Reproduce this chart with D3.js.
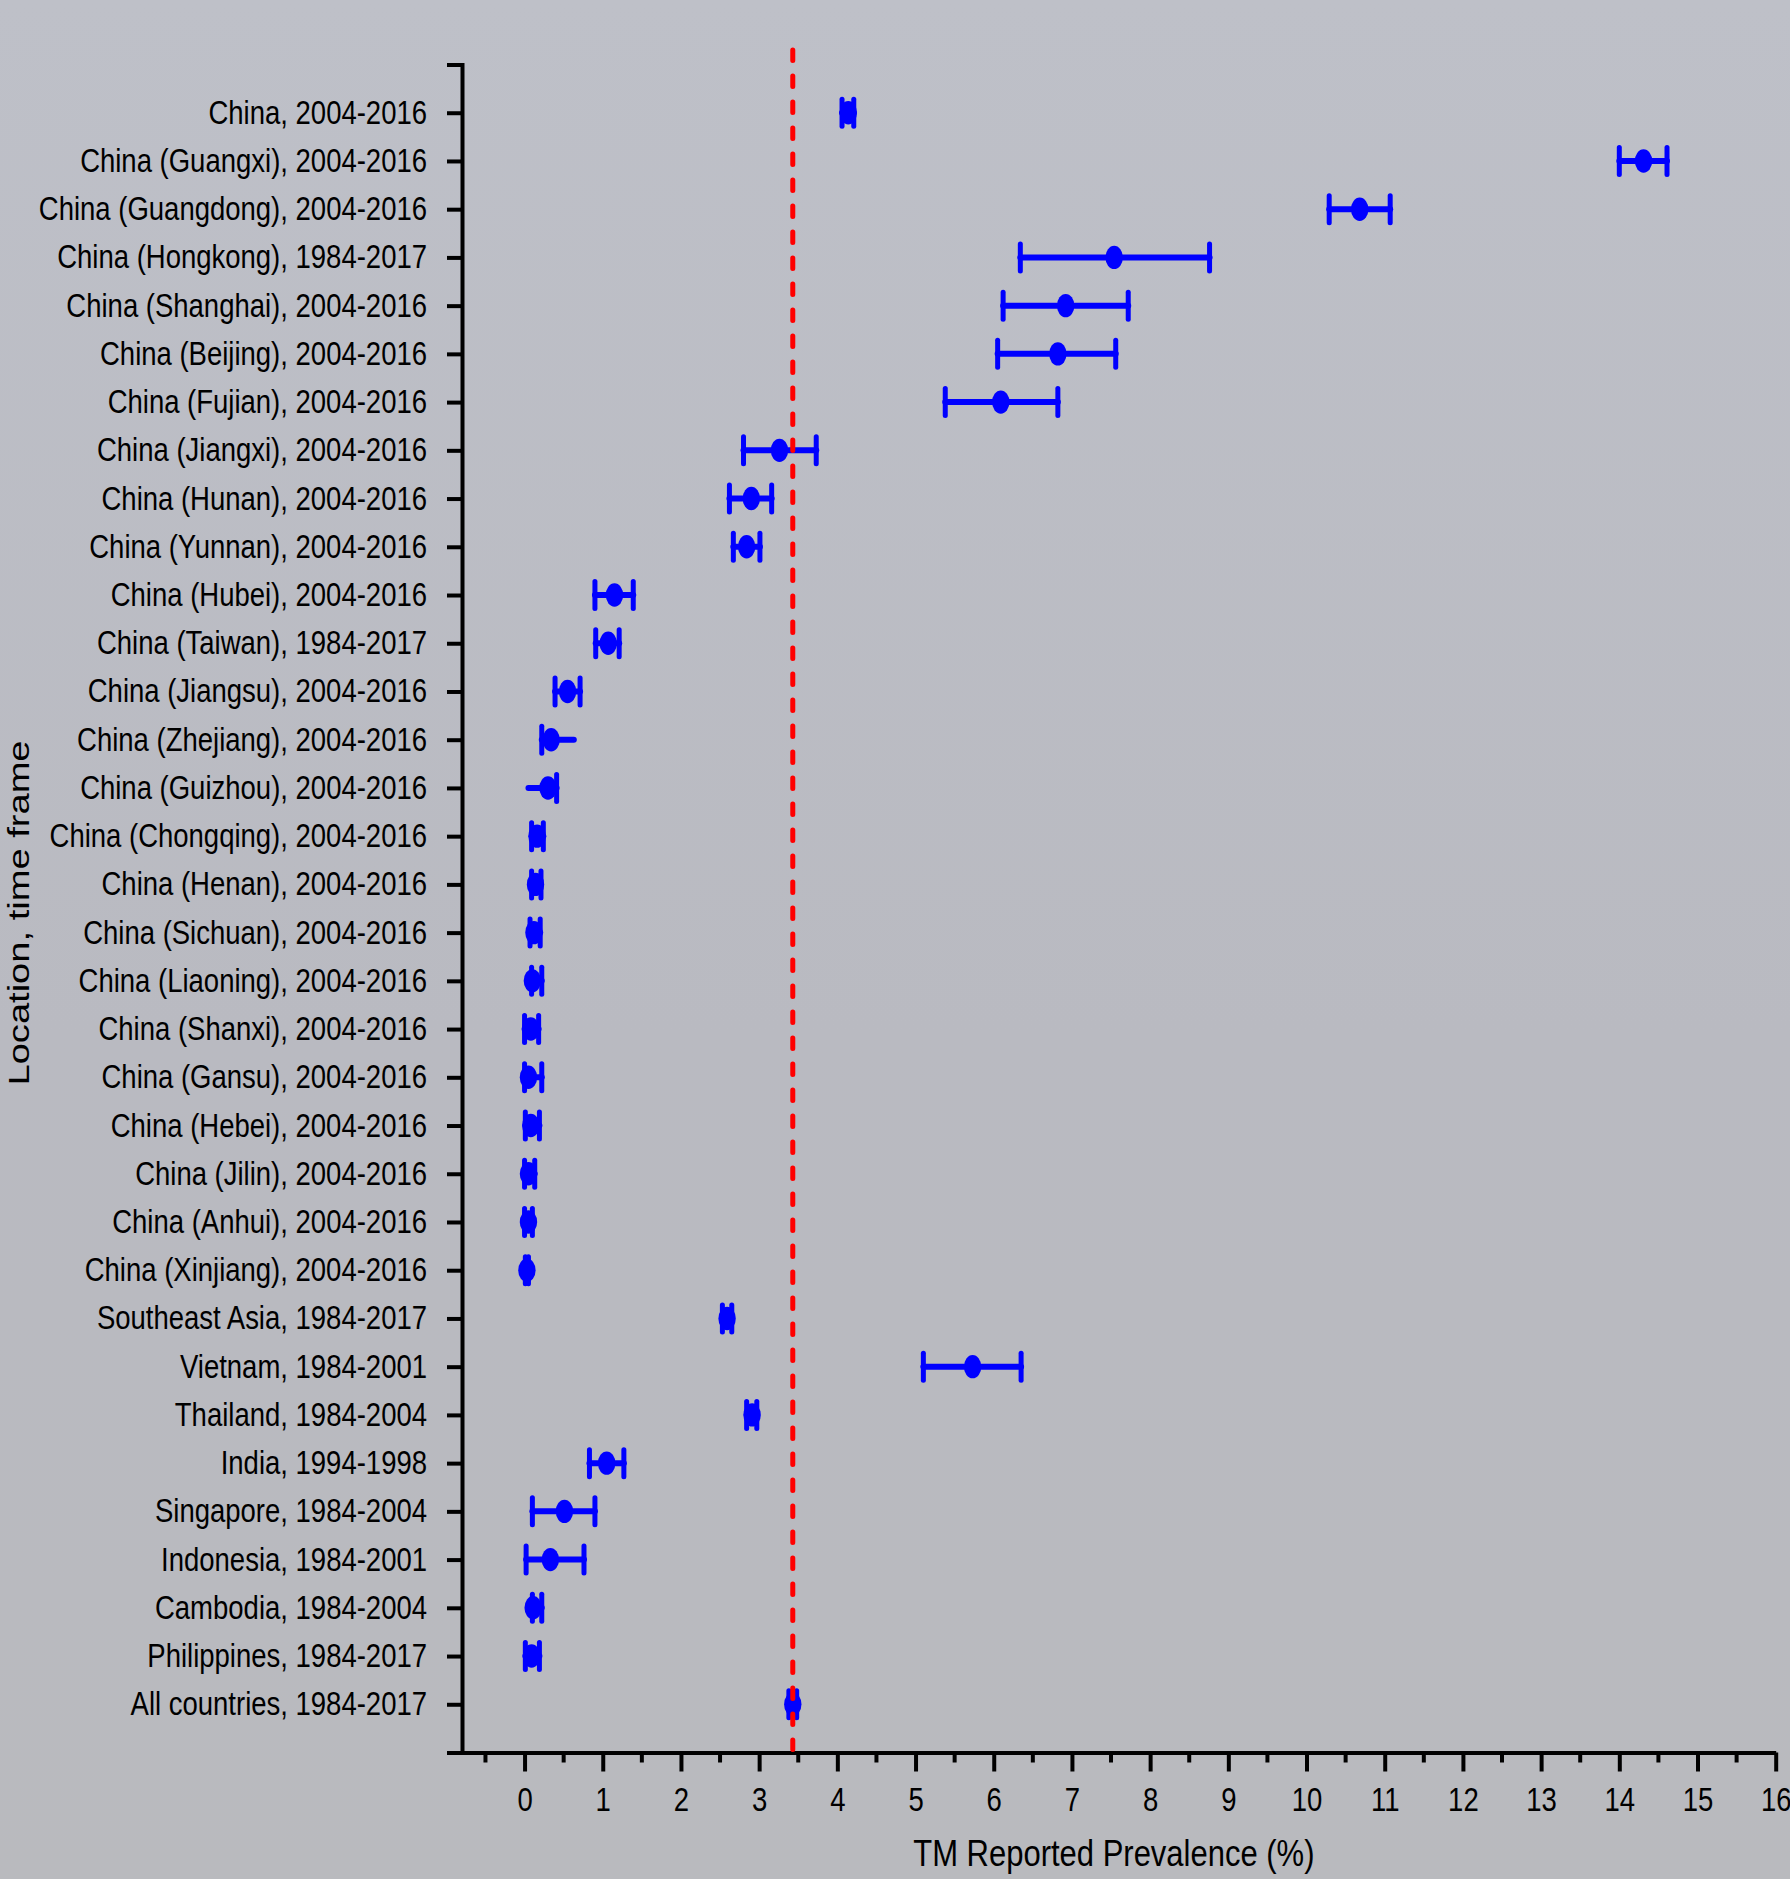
<!DOCTYPE html>
<html>
<head>
<meta charset="utf-8">
<script src="https://cdn.jsdelivr.net/npm/d3@7"></script>
<style>
  html, body { margin: 0; padding: 0; background: #bcbec5; }
  svg { display: block; }
  text { font-family: "Liberation Sans", Arial, Helvetica, sans-serif; fill: #000; }
</style>
</head>
<body>
<svg id="chart" width="1790" height="1879"></svg>
<script>
// Study locations with their time frames, top to bottom
const locations = [
  "China, 2004-2016",
  "China (Guangxi), 2004-2016",
  "China (Guangdong), 2004-2016",
  "China (Hongkong), 1984-2017",
  "China (Shanghai), 2004-2016",
  "China (Beijing), 2004-2016",
  "China (Fujian), 2004-2016",
  "China (Jiangxi), 2004-2016",
  "China (Hunan), 2004-2016",
  "China (Yunnan), 2004-2016",
  "China (Hubei), 2004-2016",
  "China (Taiwan), 1984-2017",
  "China (Jiangsu), 2004-2016",
  "China (Zhejiang), 2004-2016",
  "China (Guizhou), 2004-2016",
  "China (Chongqing), 2004-2016",
  "China (Henan), 2004-2016",
  "China (Sichuan), 2004-2016",
  "China (Liaoning), 2004-2016",
  "China (Shanxi), 2004-2016",
  "China (Gansu), 2004-2016",
  "China (Hebei), 2004-2016",
  "China (Jilin), 2004-2016",
  "China (Anhui), 2004-2016",
  "China (Xinjiang), 2004-2016",
  "Southeast Asia, 1984-2017",
  "Vietnam, 1984-2001",
  "Thailand, 1984-2004",
  "India, 1994-1998",
  "Singapore, 1984-2004",
  "Indonesia, 1984-2001",
  "Cambodia, 1984-2004",
  "Philippines, 1984-2017",
  "All countries, 1984-2017"
];

// Reported prevalence (%) and its 95% CI bounds
const prevalence = [4.14, 14.31, 10.68, 7.54, 6.92, 6.82, 6.09, 3.26, 2.90, 2.84,
                    1.15, 1.07, 0.55, 0.34, 0.30, 0.16, 0.14, 0.12, 0.10, 0.08,
                    0.05, 0.08, 0.05, 0.05, 0.03, 2.59, 5.73, 2.91, 1.05, 0.51,
                    0.33, 0.11, 0.09, 3.43];
const ciLower =    [4.06, 14.00, 10.29, 6.34, 6.12, 6.05, 5.38, 2.80, 2.62, 2.67,
                    0.90, 0.91, 0.39, 0.22, 0.05, 0.09, 0.09, 0.07, 0.09, 0.00,
                    0.00, 0.01, 0.00, 0.00, 0.01, 2.53, 5.10, 2.84, 0.83, 0.10,
                    0.02, 0.10, 0.01, 3.38];
const ciUpper =    [4.21, 14.61, 11.07, 8.76, 7.72, 7.56, 6.82, 3.73, 3.16, 3.01,
                    1.39, 1.21, 0.71, 0.63, 0.41, 0.24, 0.21, 0.20, 0.22, 0.18,
                    0.22, 0.19, 0.13, 0.10, 0.05, 2.65, 6.35, 2.97, 1.27, 0.90,
                    0.76, 0.22, 0.19, 3.48];

// Whisker ends drawn without a cap
const openLowerEnd = ["China (Guizhou), 2004-2016"];
const openUpperEnd = ["China (Zhejiang), 2004-2016"];

// Pooled prevalence across all countries (reference line)
const pooledPrevalence = 3.43;

const xMajorTicks = d3.range(0, 17);
const xMinorTicks = d3.range(-0.5, 16, 1);

const xTitle = "TM Reported Prevalence (%)";
const yTitle = "Location, time frame";

const rows = locations.map((loc, i) => ({
  loc, est: prevalence[i], lo: ciLower[i], hi: ciUpper[i]
}));

const svg = d3.select("#chart");

// background with a faint vertical shading
const defs = svg.append("defs");
const grad = defs.append("linearGradient").attr("id", "bg")
  .attr("x1", 0).attr("y1", 0).attr("x2", 0).attr("y2", 1);
grad.append("stop").attr("offset", "0%").attr("stop-color", "#bec0c8");
grad.append("stop").attr("offset", "55%").attr("stop-color", "#b9bac1");
grad.append("stop").attr("offset", "100%").attr("stop-color", "#b9babe");
svg.append("rect").attr("width", 1790).attr("height", 1879).attr("fill", "url(#bg)");

const x = d3.scaleLinear().domain([-0.8, 16]).range([462, 1775.7]);
const y = d3.scalePoint().domain(locations).range([64.5, 1752.5]).padding(1);

const axisStroke = 4;

// ---- y axis ----
const yAxisG = svg.append("g")
  .attr("transform", `translate(${x.range()[0]},0)`)
  .call(d3.axisLeft(y).tickSize(15).tickSizeOuter(15).tickPadding(20));
yAxisG.select(".domain").attr("stroke", "#000").attr("stroke-width", axisStroke);
yAxisG.selectAll(".tick line").attr("stroke", "#000").attr("stroke-width", axisStroke);
yAxisG.selectAll(".tick text")
  .attr("font-size", 27.5)
  .attr("dy", null)
  .attr("y", 0)
  .attr("transform", "translate(0,10.5) scale(1,1.23)")
  .attr("fill", "#000");

// ---- x axis ----
const xAxisG = svg.append("g")
  .attr("transform", `translate(0,${y.range()[1]})`)
  .call(d3.axisBottom(x).tickValues(xMajorTicks).tickSize(19).tickSizeOuter(0)
    .tickFormat(d3.format("d")));
xAxisG.select(".domain").attr("stroke", "#000").attr("stroke-width", axisStroke);
xAxisG.selectAll(".tick line").attr("stroke", "#000").attr("stroke-width", axisStroke);
xAxisG.selectAll(".tick text")
  .attr("font-size", 27.5)
  .attr("dy", null)
  .attr("y", 0)
  .attr("transform", "translate(0,58) scale(1,1.2)")
  .attr("fill", "#000");
xAxisG.selectAll(".minor")
  .data(xMinorTicks)
  .join("line")
  .attr("class", "minor")
  .attr("x1", d => x(d)).attr("x2", d => x(d))
  .attr("y1", 0).attr("y2", 10)
  .attr("stroke", "#000").attr("stroke-width", axisStroke);

// ---- axis titles ----
svg.append("text")
  .attr("transform", `translate(${(x(-0.8) + x(16)) / 2 - 5},1866) scale(1,1.22)`)
  .attr("text-anchor", "middle")
  .attr("font-size", 31)
  .text(xTitle);

svg.append("text")
  .attr("transform", "translate(29,913) scale(1,1.27) rotate(-90)")
  .attr("text-anchor", "middle")
  .attr("font-size", 30)
  .text(yTitle);

// ---- estimates with confidence intervals ----
const blue = "#0000ff";
const capHalf = 13.5;
const marks = svg.append("g").attr("class", "marks");

const rowG = marks.selectAll("g.row")
  .data(rows)
  .join("g")
  .attr("class", "row")
  .attr("transform", d => `translate(0,${y(d.loc)})`);

rowG.append("line")
  .attr("x1", d => x(d.lo)).attr("x2", d => x(d.hi))
  .attr("y1", 0).attr("y2", 0)
  .attr("stroke", blue).attr("stroke-width", 6).attr("stroke-linecap", "round");

rowG.filter(d => !openLowerEnd.includes(d.loc)).append("line")
  .attr("x1", d => x(d.lo)).attr("x2", d => x(d.lo))
  .attr("y1", -capHalf).attr("y2", capHalf)
  .attr("stroke", blue).attr("stroke-width", 5).attr("stroke-linecap", "round");

rowG.filter(d => !openUpperEnd.includes(d.loc)).append("line")
  .attr("x1", d => x(d.hi)).attr("x2", d => x(d.hi))
  .attr("y1", -capHalf).attr("y2", capHalf)
  .attr("stroke", blue).attr("stroke-width", 5).attr("stroke-linecap", "round");

rowG.append("ellipse")
  .attr("cx", d => x(d.est)).attr("cy", 0)
  .attr("rx", 8.7).attr("ry", 11.7)
  .attr("fill", blue);

// ---- pooled prevalence reference line ----
svg.append("line")
  .attr("x1", x(pooledPrevalence)).attr("x2", x(pooledPrevalence))
  .attr("y1", 50).attr("y2", y.range()[1] - 3)
  .attr("stroke", "#ff0000").attr("stroke-width", 5)
  .attr("stroke-linecap", "round")
  .attr("stroke-dasharray", "10.5,15.5");
</script>
</body>
</html>
